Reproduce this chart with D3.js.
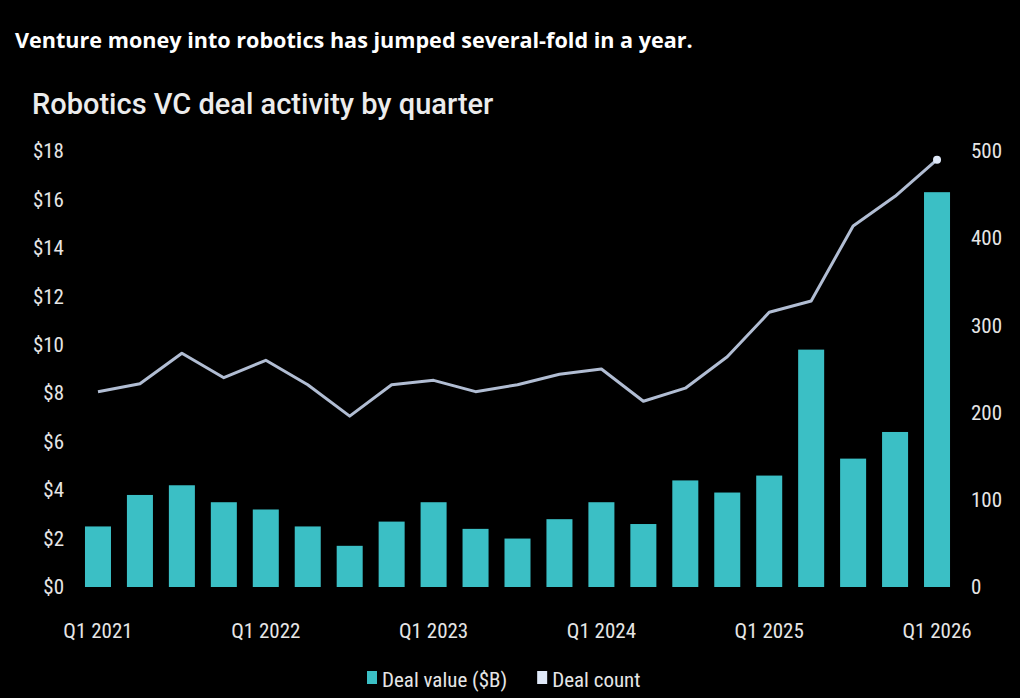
<!DOCTYPE html>
<meta charset="utf-8">
<script src="https://d3js.org/d3.v7.min.js"></script>
<style>
  body { margin: 0; background: #000; }
  svg { display: block; }
  .tick text { font-family: "Roboto Condensed", "Liberation Sans Narrow", "DejaVu Sans Condensed", Roboto, sans-serif; }
</style>
<div id="chart"></div>
<script>
// quarters, Q1 2021 .. Q1 2026
var quarters = ["Q1 2021","Q2 2021","Q3 2021","Q4 2021",
                "Q1 2022","Q2 2022","Q3 2022","Q4 2022",
                "Q1 2023","Q2 2023","Q3 2023","Q4 2023",
                "Q1 2024","Q2 2024","Q3 2024","Q4 2024",
                "Q1 2025","Q2 2025","Q3 2025","Q4 2025",
                "Q1 2026"];
// deal value in $B (left axis)
var dealValue = [2.5, 3.8, 4.2, 3.5, 3.2, 2.5, 1.7, 2.7, 3.5, 2.4, 2.0, 2.8,
                 3.5, 2.6, 4.4, 3.9, 4.6, 9.8, 5.3, 6.4, 16.3];
// number of deals (right axis)
var dealCount = [224, 233, 268, 240, 260, 232, 196, 232, 237, 224, 232, 244,
                 250, 213, 228, 264, 315, 328, 414, 448, 490];
var leftTicks = [0, 2, 4, 6, 8, 10, 12, 14, 16, 18];
var rightTicks = [0, 100, 200, 300, 400, 500];
var xLabels = ["Q1 2021","Q1 2022","Q1 2023","Q1 2024","Q1 2025","Q1 2026"];

var W = 1020, H = 698;
var barColor = "#3bbfc5", lineColor = "#b1bdd3", dotColor = "#dfe8f8", textColor = "#e6e6e6";

var svg = d3.select("#chart").append("svg")
    .attr("width", W).attr("height", H);

svg.append("rect").attr("width", W).attr("height", H).attr("fill", "#000");

// headline
svg.append("text")
    .attr("x", 15).attr("y", 48)
    .attr("fill", "#fff")
    .style("font-family", "'Open Sans', sans-serif")
    .style("font-weight", 700)
    .style("font-size", "21.6px")
    .text("Venture money into robotics has jumped several-fold in a year.");

// chart title
svg.append("text")
    .attr("x", 32).attr("y", 114)
    .attr("fill", "#ececec")
    .style("font-family", "Roboto, sans-serif")
    .style("font-weight", 500)
    .style("font-size", "29px")
    .text("Robotics VC deal activity by quarter");

var x = d3.scaleBand()
    .domain(quarters)
    .range([77, 958])
    .paddingInner(0.38)
    .paddingOuter(0.19);

var yL = d3.scaleLinear().domain([0, 18]).range([587, 151]);
var yR = d3.scaleLinear().domain([0, 500]).range([587, 151]);

// bars
svg.append("g").selectAll("rect")
  .data(dealValue)
  .enter().append("rect")
    .attr("x", function(d, i) { return x(quarters[i]); })
    .attr("width", x.bandwidth())
    .attr("y", function(d) { return yL(d); })
    .attr("height", function(d) { return yL(0) - yL(d); })
    .attr("fill", barColor);

// deal count line
var line = d3.line()
    .x(function(d, i) { return x(quarters[i]) + x.bandwidth() / 2; })
    .y(function(d) { return yR(d); });

svg.append("path")
    .datum(dealCount)
    .attr("d", line)
    .attr("fill", "none")
    .attr("stroke", lineColor)
    .attr("stroke-width", 3)
    .attr("stroke-linejoin", "round");

var last = dealCount.length - 1;
svg.append("circle")
    .attr("cx", x(quarters[last]) + x.bandwidth() / 2)
    .attr("cy", yR(dealCount[last]))
    .attr("r", 4)
    .attr("fill", dotColor);

// axes
function styleAxis(g) {
  g.select(".domain").remove();
  g.selectAll(".tick line").remove();
  g.selectAll(".tick text").attr("fill", textColor).style("font-size", "21px");
}

svg.append("g")
    .attr("transform", "translate(64,0)")
    .call(d3.axisLeft(yL).tickValues(leftTicks).tickSize(0).tickPadding(0)
      .tickFormat(function(d) { return "$" + d; }))
    .call(styleAxis);

svg.append("g")
    .attr("transform", "translate(971,0)")
    .call(d3.axisRight(yR).tickValues(rightTicks).tickSize(0).tickPadding(0))
    .call(styleAxis);

svg.append("g")
    .attr("transform", "translate(0,623)")
    .call(d3.axisBottom(x).tickValues(xLabels).tickSize(0).tickPadding(0))
    .call(styleAxis);

// legend
var legendItems = [
  {label: "Deal value ($B)", color: barColor},
  {label: "Deal count", color: dotColor}
];
var legend = svg.append("g").attr("transform", "translate(367,680)");
var lx = 0;
legendItems.forEach(function(item) {
  var g = legend.append("g").attr("transform", "translate(" + lx + ",0)");
  g.append("rect").attr("x", 0).attr("y", -9).attr("width", 10).attr("height", 13).attr("fill", item.color);
  var t = g.append("text")
      .attr("x", 15).attr("y", 0).attr("dy", "0.32em")
      .attr("fill", textColor)
      .style("font-family", "'Roboto Condensed', 'Liberation Sans Narrow', 'DejaVu Sans Condensed', Roboto, sans-serif")
      .style("font-size", "21px")
      .text(item.label);
  lx += 15 + t.node().getComputedTextLength() + 30;
});
</script>
